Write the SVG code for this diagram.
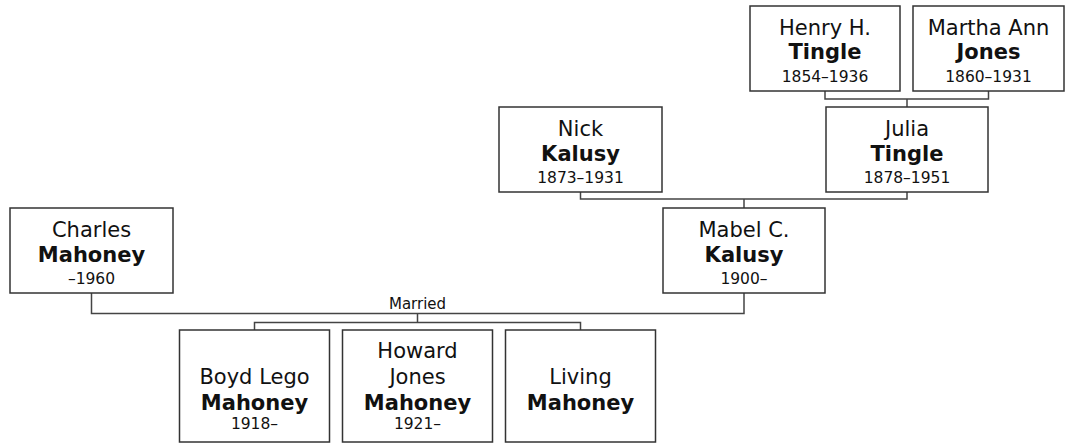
<svg xmlns="http://www.w3.org/2000/svg" width="1066" height="443" viewBox="0 0 1066 443">
<style>
.box{fill:#fff;stroke:#333;stroke-width:1.5}
.c{fill:none;stroke:#444;stroke-width:1.5}
text{font-family:"DejaVu Sans",Verdana,sans-serif;text-anchor:middle;fill:#111}
.n{font-size:21px}
.b{font-size:21px;font-weight:bold}
.d{font-size:15.5px}
.m{font-size:15px}
</style>
<rect width="1066" height="443" fill="#fff"/>
<g id="connectors">
<path class="c" d="M825 91V99H988.5V91M907 99V107"/>
<path class="c" d="M580.5 192V199H907V192M744 199V208"/>
<path class="c" d="M91.5 293V313.5H744V293M417.5 313.5V322.5M254.5 330V322.5H580.5V330"/>
<text class="m" x="417.5" y="309">Married</text>
</g>
<g id="henry">
<rect class="box" x="750" y="6" width="150" height="85"/>
<text class="n" x="825" y="35">Henry H.</text>
<text class="b" x="825" y="59">Tingle</text>
<text class="d" x="825" y="82">1854–1936</text>
</g>
<g id="martha">
<rect class="box" x="913" y="6" width="151" height="85"/>
<text class="n" x="988.5" y="35">Martha Ann</text>
<text class="b" x="988.5" y="59">Jones</text>
<text class="d" x="988.5" y="82">1860–1931</text>
</g>
<g id="nick">
<rect class="box" x="499" y="107" width="163" height="85"/>
<text class="n" x="580.5" y="136">Nick</text>
<text class="b" x="580.5" y="161">Kalusy</text>
<text class="d" x="580.5" y="183">1873–1931</text>
</g>
<g id="julia">
<rect class="box" x="826" y="107" width="162" height="85"/>
<text class="n" x="907" y="136">Julia</text>
<text class="b" x="907" y="161">Tingle</text>
<text class="d" x="907" y="183">1878–1951</text>
</g>
<g id="charles">
<rect class="box" x="10" y="208" width="163" height="85"/>
<text class="n" x="91.5" y="237">Charles</text>
<text class="b" x="91.5" y="262">Mahoney</text>
<text class="d" x="91.5" y="284">–1960</text>
</g>
<g id="mabel">
<rect class="box" x="663" y="208" width="162" height="85"/>
<text class="n" x="744" y="237">Mabel C.</text>
<text class="b" x="744" y="262">Kalusy</text>
<text class="d" x="744" y="284">1900–</text>
</g>
<g id="boyd">
<rect class="box" x="179.5" y="330" width="150" height="112"/>
<text class="n" x="254.5" y="384">Boyd Lego</text>
<text class="b" x="254.5" y="410">Mahoney</text>
<text class="d" x="254.5" y="429">1918–</text>
</g>
<g id="howard">
<rect class="box" x="342.5" y="330" width="150" height="112"/>
<text class="n" x="417.5" y="358">Howard</text>
<text class="n" x="417.5" y="384">Jones</text>
<text class="b" x="417.5" y="410">Mahoney</text>
<text class="d" x="417.5" y="429">1921–</text>
</g>
<g id="living">
<rect class="box" x="505.5" y="330" width="150" height="112"/>
<text class="n" x="580.5" y="384">Living</text>
<text class="b" x="580.5" y="410">Mahoney</text>
</g>
</svg>
